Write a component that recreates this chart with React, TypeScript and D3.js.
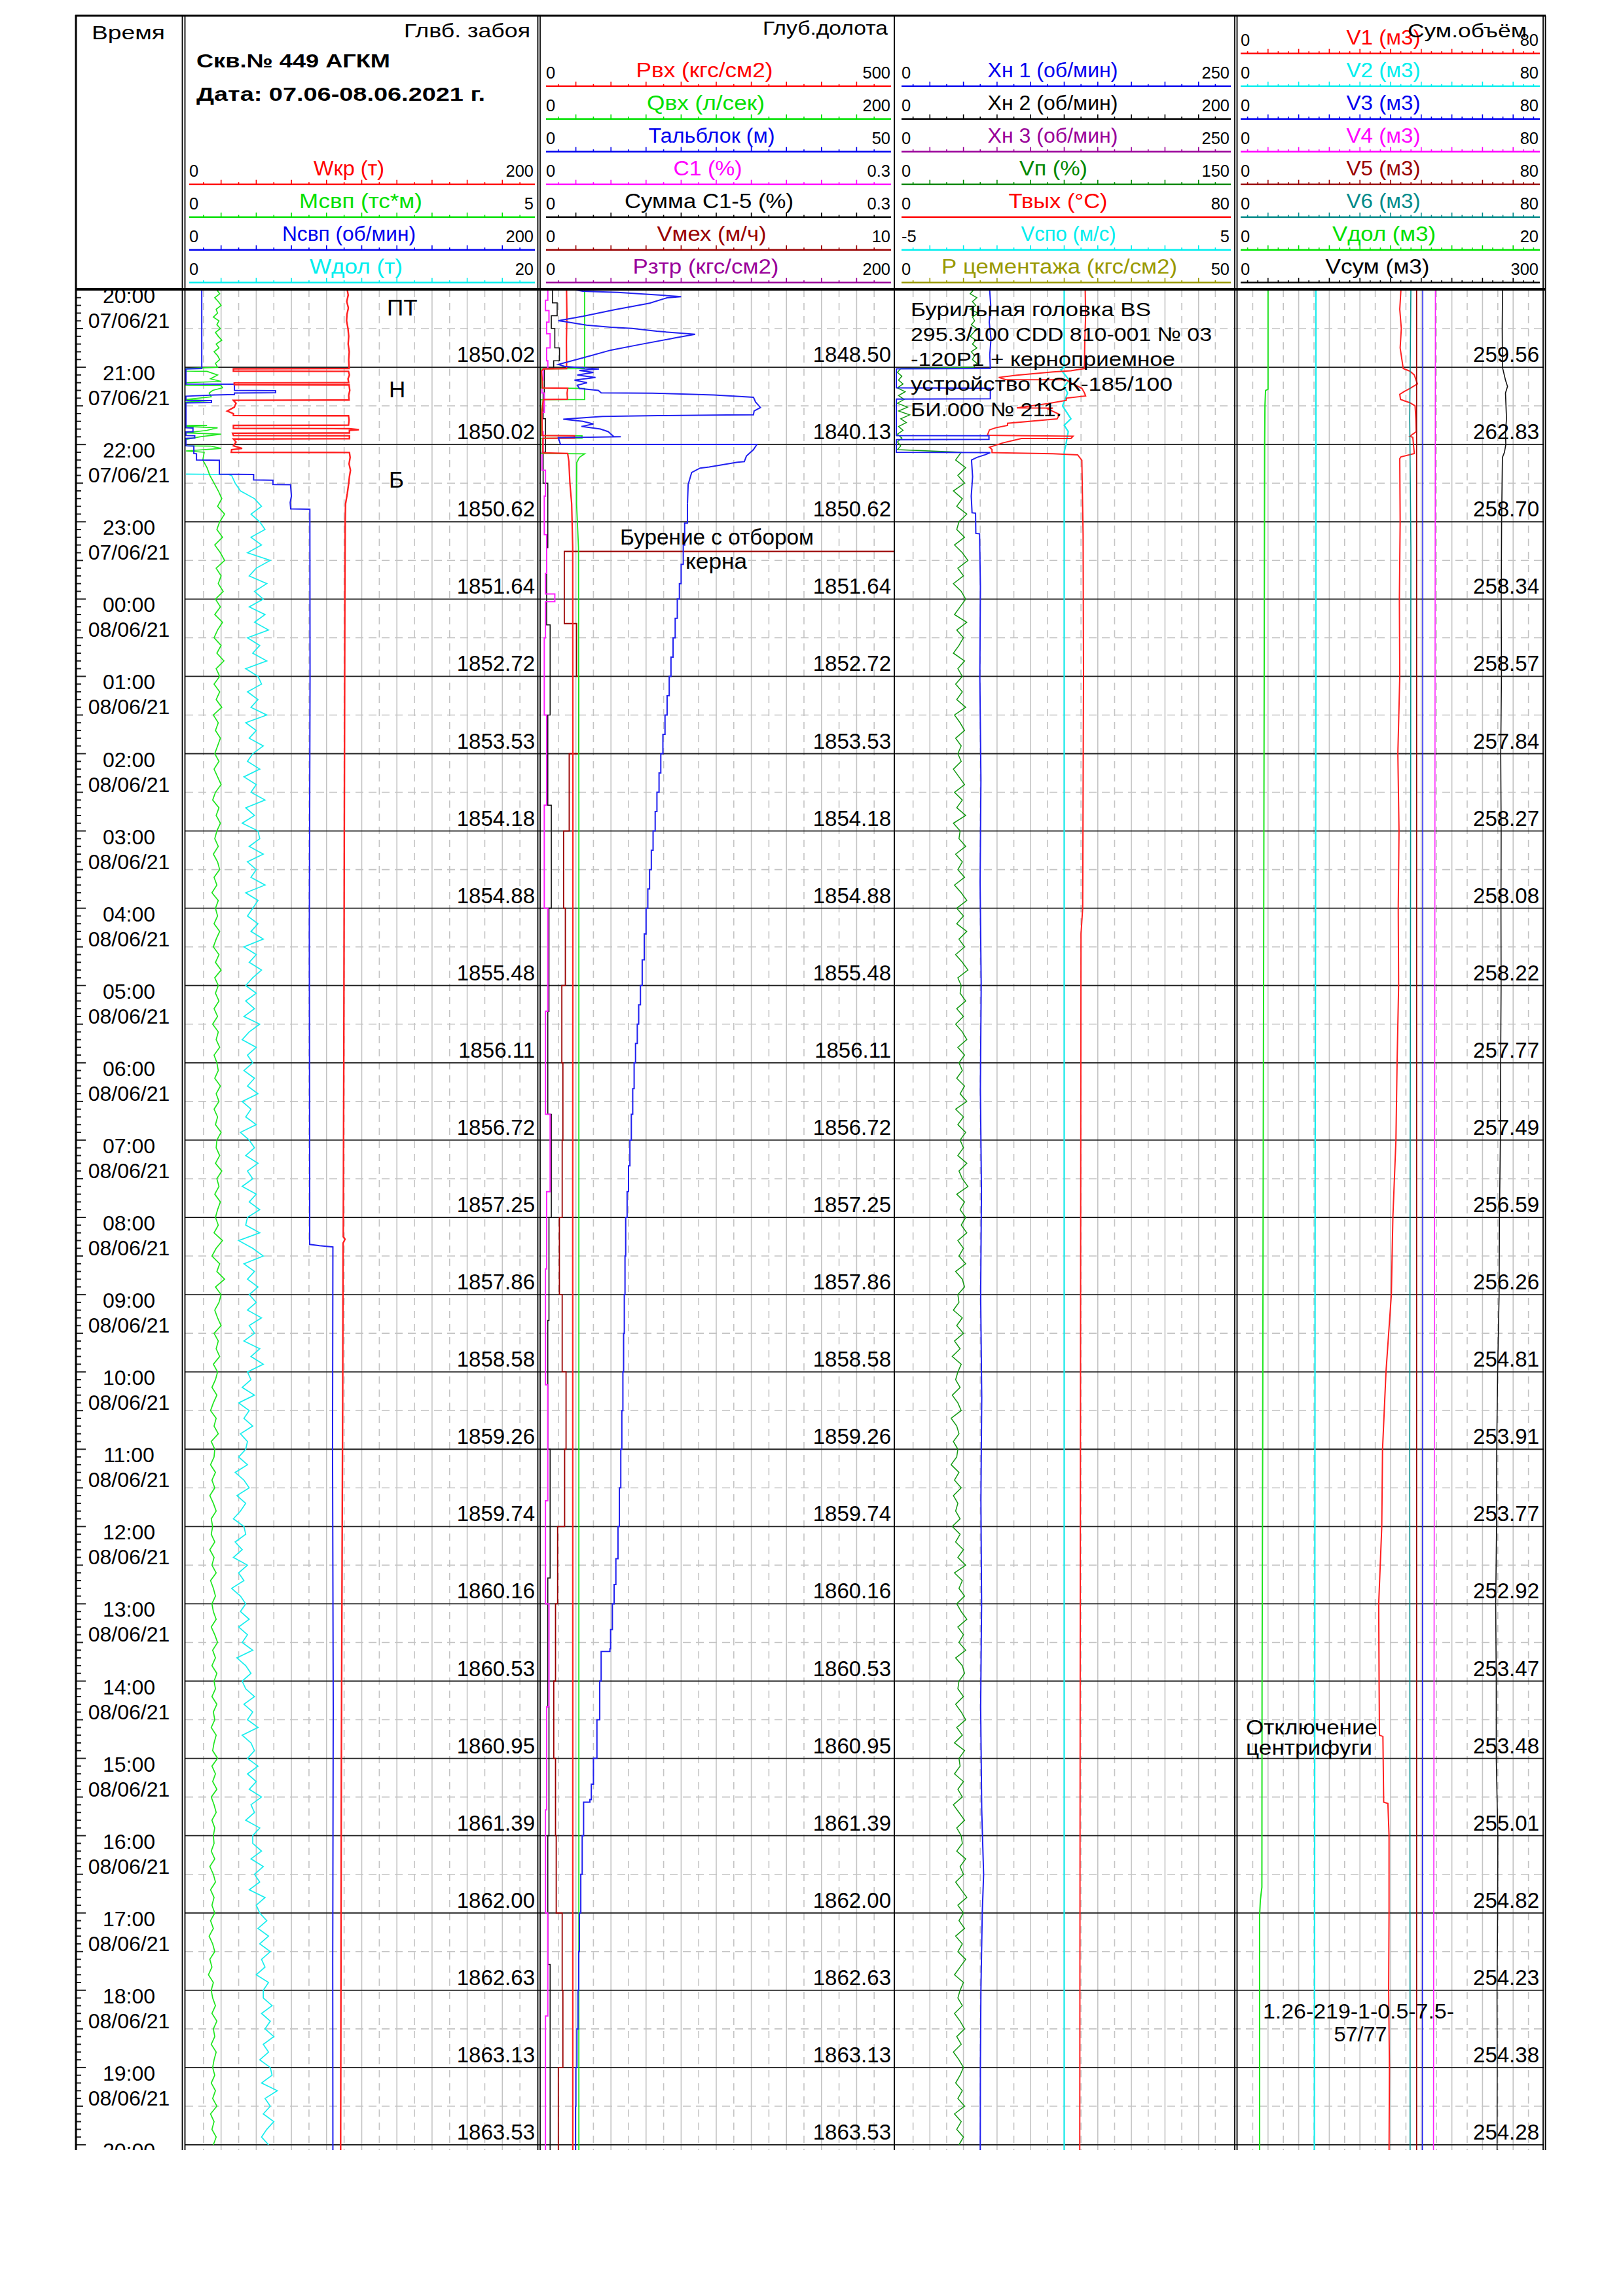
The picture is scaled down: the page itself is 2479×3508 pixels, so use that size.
import React, { useEffect } from 'react';
import * as d3 from 'd3';

type Pt = [number, number];

const FONT = "'Liberation Sans', Arial, Helvetica, sans-serif";

/* ---------------- time axis labels ---------------- */
const hourLabels = ['20:00','21:00','22:00','23:00','00:00','01:00','02:00','03:00','04:00','05:00','06:00','07:00','08:00','09:00','10:00','11:00','12:00','13:00','14:00','15:00','16:00','17:00','18:00','19:00','20:00'];
const dateLabels = ['07/06/21','07/06/21','07/06/21','07/06/21','08/06/21','08/06/21','08/06/21','08/06/21','08/06/21','08/06/21','08/06/21','08/06/21','08/06/21','08/06/21','08/06/21','08/06/21','08/06/21','08/06/21','08/06/21','08/06/21','08/06/21','08/06/21','08/06/21','08/06/21','08/06/21'];

/* hourly values printed above each hour line (21:00 .. 20:00) */
const zaboyDepth = ['1850.02','1850.02','1850.62','1851.64','1852.72','1853.53','1854.18','1854.88','1855.48','1856.11','1856.72','1857.25','1857.86','1858.58','1859.26','1859.74','1860.16','1860.53','1860.95','1861.39','1862.00','1862.63','1863.13','1863.53'];
const bitDepth = ['1848.50','1840.13','1850.62','1851.64','1852.72','1853.53','1854.18','1854.88','1855.48','1856.11','1856.72','1857.25','1857.86','1858.58','1859.26','1859.74','1860.16','1860.53','1860.95','1861.39','1862.00','1862.63','1863.13','1863.53'];
const vsumLabels = ['259.56','262.83','258.70','258.34','258.57','257.84','258.27','258.08','258.22','257.77','257.49','256.59','256.26','254.81','253.91','253.77','252.92','253.47','253.48','255.01','254.82','254.23','254.38','254.28'];

/* ---------------- header scales ---------------- */
const t1Names = ['Wкр (т)', 'Мсвп (тс*м)', 'Nсвп (об/мин)', 'Wдол (т)'];
const t1Min = ['0', '0', '0', '0'];
const t1Max = ['200', '5', '200', '20'];
const t1Colors = ['#ff0000', '#00e000', '#0000ee', '#00eeee'];

const t2Names = ['Рвх (кгс/см2)', 'Qвх (л/сек)', 'Тальблок (м)', 'C1 (%)', 'Сумма C1-5 (%)', 'Vмех (м/ч)', 'Рзтр (кгс/см2)'];
const t2Min = ['0', '0', '0', '0', '0', '0', '0'];
const t2Max = ['500', '200', '50', '0.3', '0.3', '10', '200'];
const t2Colors = ['#ff0000', '#00e000', '#0000ee', '#ff00ff', '#000000', '#990000', '#990099'];

const t3Names = ['Хн 1 (об/мин)', 'Хн 2 (об/мин)', 'Хн 3 (об/мин)', 'Vп  (%)', 'Твых (°C)', 'Vспо (м/с)', 'Р цементажа (кгс/см2)'];
const t3Min = ['0', '0', '0', '0', '0', '-5', '0'];
const t3Max = ['250', '200', '250', '150', '80', '5', '50'];
const t3Colors = ['#0000ee', '#000000', '#990099', '#008800', '#ff0000', '#00eeee', '#999900'];

const t4Names = ['V1 (м3)', 'V2 (м3)', 'V3 (м3)', 'V4 (м3)', 'V5 (м3)', 'V6 (м3)', 'Vдол (м3)', 'Vсум (м3)'];
const t4Min = ['0', '0', '0', '0', '0', '0', '0', '0'];
const t4Max = ['80', '80', '80', '80', '80', '80', '20', '300'];
const t4Colors = ['#ff0000', '#00eeee', '#0000ee', '#ff00ff', '#990000', '#008b8b', '#00e000', '#000000'];

/* ---------------- series (minutes from 20:00 07/06, value) ---------------- */
// Track 1
const wkr: Pt[] = [[0,91.8],[4,92.3],[9,91.5],[14,92.4],[19,91.6],[24,91.4],[30,92.2],[36,92.6],[42,92.3],[48,92.9],[54,92.6],[60,92.8],
  [61,92.8],[61.2,27],[63,27],[63.2,92.5],[66,93],[69,92.2],[72,92.6],[72.2,27.5],[73.6,27.5],[73.8,92.8],[78,93.2],[82,92.6],[85.5,92.8],[85.7,27],[88,28.5],[91,27.5],[94,23.5],[96,27],[97.5,27],[97.7,92.5],[101,92.8],[105,92.5],[105.2,27],[107.5,27],[107.7,93],[108.5,98.4],[109,93],[111,93],[111.2,26.5],[113,27],[113.2,93],[115.5,93],[115.7,27],[118,28.5],[121,27],[123,32],[124,26],[126,25.8],[126.2,93],
  [130,93.4],[135,92.8],[140,93.6],[145,93],[150,92.6],[158,91.8],[166,90.8],[180,90.6],[240,90.4],[360,90.2],[480,90],[600,89.8],[735,89.5],[737,90.5],[740,89.4],[850,89.2],[1000,88.8],[1150,88.4],[1300,88.2],[1446,88]];

const nsvp: Pt[] = [[0,9],[61,9],[61.3,0],[73,0],[73.2,27.6],[78,27.6],[78.2,51],[79.8,51],[80,27.6],[81.2,27.6],[81.5,16],[82.5,0],[85.7,0],[85.9,14.5],[87.4,14.5],[87.6,0],[107,0],[107.2,4],[110,4],[110.2,0],[113,0],[113.2,5],[115,5],[115.2,0],[121,0],[121.2,4.5],[127,4.5],[127.2,6],[132,6],[132.2,19],[143,19],[143.3,38.5],[147.5,38.5],[147.7,49.5],[151,49.5],[151.2,59.5],[160,60],[165,59.3],[170,59.6],[170.2,70.5],[300,70.6],[500,70.2],[700,70.4],[741,70.4],[742,76],[743,83.6],[900,83.4],[1100,83.8],[1300,83.5],[1446,83.6]];

const msvpEarly: Pt[] = [[0,0.44],[3,0.48],[6,0.41],[9,0.46],[12,0.50],[15,0.43],[18,0.45],[21,0.39],[24,0.47],[27,0.44],[30,0.49],[33,0.42],[36,0.46],[39,0.51],[42,0.43],[45,0.47],[48,0.40],[51,0.45],[54,0.48],[57,0.42],[60,0.45],[61,0],[63,0],[63.2,0.3],[66,0.45],[69,0.35],[71,0.5],[72,0],[74,0],[74.2,0.5],[76,0.52],[78,0.38],[80,0.33],[83,0.36],[85,0],[86,0.35],[87,0],[105,0],[105.2,0.3],[106,0],[107,0.45],[109,0.3],[111,0],[112,0.5],[114,0.2],[116,0],[121,0],[121.2,0.35],[123,0.5],[125,0]];
// from 22:06, one value every 6 minutes, one row per hour
const msvpRows: number[][] = [
  [0.26,0.24,0.30,0.34,0.40,0.46,0.51,0.45,0.55,0.48],
  [0.44,0.52,0.41,0.49,0.55,0.43,0.50,0.46,0.53,0.42],
  [0.49,0.41,0.52,0.45,0.40,0.50,0.44,0.54,0.43,0.48],
  [0.40,0.48,0.43,0.51,0.39,0.46,0.42,0.49,0.45,0.41],
  [0.47,0.40,0.45,0.50,0.42,0.38,0.47,0.43,0.49,0.44],
  [0.41,0.46,0.39,0.45,0.48,0.40,0.44,0.37,0.46,0.42],
  [0.45,0.40,0.48,0.43,0.39,0.47,0.42,0.50,0.41,0.46],
  [0.42,0.47,0.40,0.45,0.38,0.46,0.43,0.48,0.40,0.44],
  [0.46,0.41,0.49,0.43,0.47,0.40,0.45,0.42,0.50,0.44],
  [0.43,0.48,0.42,0.51,0.44,0.47,0.41,0.49,0.45,0.42],
  [0.46,0.40,0.52,0.43,0.37,0.48,0.44,0.55,0.42,0.50],
  [0.47,0.41,0.45,0.50,0.40,0.46,0.43,0.48,0.39,0.45],
  [0.42,0.37,0.44,0.39,0.35,0.43,0.40,0.46,0.36,0.41],
  [0.40,0.35,0.42,0.37,0.41,0.34,0.39,0.43,0.36,0.38],
  [0.36,0.41,0.34,0.40,0.37,0.43,0.35,0.39,0.42,0.37],
  [0.39,0.43,0.36,0.41,0.45,0.38,0.42,0.37,0.44,0.40],
  [0.42,0.37,0.44,0.39,0.41,0.36,0.43,0.40,0.38,0.45],
  [0.37,0.42,0.38,0.44,0.36,0.40,0.43,0.37,0.41,0.39],
  [0.40,0.36,0.41,0.34,0.39,0.42,0.35,0.40,0.37,0.41],
  [0.35,0.39,0.33,0.38,0.41,0.34,0.37,0.32,0.39,0.36],
  [0.38,0.42,0.37,0.44,0.39,0.41,0.36,0.43,0.40,0.38],
  [0.41,0.36,0.42,0.38,0.44,0.35,0.40,0.37,0.43,0.39],
];

const wdolEarly: Pt[] = [[143,0],[143.3,2.4]];
const wdolRows: (number | null)[][] = [
  [null,null,null,2.6,2.8,3.1,3.9,4.3,3.7,4.2],
  [4.5,3.7,4.3,3.5,4.8,4.0,3.6,4.6,3.9,4.4],
  [3.6,4.5,3.9,4.7,3.5,4.2,3.8,4.6,3.4,4.1],
  [4.3,3.5,4.1,3.7,4.6,3.4,4.0,3.6,4.4,3.8],
  [3.5,4.2,3.3,4.0,3.7,4.5,3.4,3.9,3.2,4.1],
  [4.2,3.6,4.4,3.5,4.0,3.7,4.5,3.4,4.1,3.8],
  [3.5,4.1,3.7,4.4,3.3,4.0,3.6,4.3,3.8,3.4],
  [4.0,3.4,3.9,3.3,4.2,3.6,3.2,4.0,3.5,3.8],
  [3.3,3.9,3.5,4.1,3.2,3.7,3.4,4.0,3.1,3.6],
  [3.9,3.4,4.1,3.5,3.8,3.2,4.0,3.6,4.2,3.5],
  [3.4,4.2,3.0,3.8,4.4,3.3,3.9,3.5,4.1,3.6],
  [4.0,3.5,4.3,3.6,3.9,3.3,4.2,3.7,4.4,3.5],
  [3.7,3.2,3.9,3.0,3.6,3.3,3.8,3.1,3.5,3.4],
  [3.0,3.5,2.8,3.3,3.6,2.9,3.4,3.1,2.7,3.3],
  [3.4,2.8,3.2,2.7,3.5,3.0,3.3,2.6,3.1,3.4],
  [3.1,3.6,3.0,3.5,3.2,3.8,2.9,3.4,3.7,3.2],
  [3.4,3.9,3.3,3.8,3.5,4.1,3.2,3.7,3.9,3.5],
  [4.1,3.5,4.0,3.6,4.3,3.7,3.9,3.4,4.2,3.8],
  [3.8,4.3,3.7,4.4,3.9,4.2,3.6,4.5,4.0,4.2],
  [4.6,4.1,4.7,4.2,4.8,4.3,4.5,4.0,4.7,4.4],
  [4.4,4.9,4.3,4.8,4.5,5.0,4.4,4.7,4.2,4.8],
  [4.9,4.3,5.2,4.5,4.8,4.4,5.0,4.6,4.3,4.7],
];

// Track 2
const rvx: Pt[] = [[0,36.7],[20,37.2],[40,36.5],[61,36.8],[61.3,3.6],[63,1],[70,2],[76,2.5],[76.3,38.4],[80,37.5],[84.8,38],[85,3.6],[95,1.5],[113,2],[113.2,48],[115,48],[115.2,3],[126.5,3],[127,38.3],[133,40],[150,41.5],[166,44],[200,45.5],[400,45.8],[700,45.5],[1000,45.6],[1446,45.6]];
const qvx: Pt[] = [[0,25],[61,25],[61.3,0],[76,0],[76.2,10],[76.5,25],[85,25],[85.2,0],[113,0],[113.2,23.5],[115,23.5],[115.2,0],[127,0],[127.2,25],[130,22],[134,20.5],[166,20.4],[200,21.5],[400,21.7],[1446,21.7]];
const talEarly: Pt[] = [[0,5],[1,6],[1.9,11],[4.4,18],[5.2,20],[6.1,18],[10.3,15.5],[15.4,10.5],[20.5,6],[23.9,2.5],[24.7,3.5],[27.3,6.5],[29,10],[29.8,13],[32,16.5],[33.2,19],[34.4,22],[37.4,19],[42.5,14],[46.7,10],[52.7,6],[57.8,2.5],[59.5,3.5],[61.3,8.3],[62.5,5.5],[64,7.5],[66,5.2],[68,7.8],[70,4.8],[72,6.6],[74,5.2],[76.5,5.5],[78,8.2],[79.9,8.6],[80.1,15.9],[81.6,24.7],[83.3,30.3],[87,30.6],[91.3,31.3],[94,30.4],[96.9,30.3],[97.1,26.6],[97.6,16.7],[98.2,8.8],[100.3,3.2],[102,6],[104,7.5],[106,5.8],[108,8.5],[110,9.6],[113.8,10.4],[114,11.4],[114.7,2.5],[119.8,2.8],[119.9,30.8],[124,30.3],[129,29.3],[133.3,29],[133.8,28],[137.5,24],[138.3,22.7],[141.7,21.5],[151,21],[166,20.9]];
const talDay: Pt[] = [[166,20.9],[181,20.5],[198,20.3],[213,20.0],[228,19.75],[240,19.45],[255,19.15],[270,18.85],[285,18.55],[300,18.3],[315,18.0],[330,17.7],[345,17.4],[360,17.1],[375,16.85],[390,16.55],[405,16.3],[420,16.0],[435,15.75],[450,15.5],[465,15.25],[480,15.0],[500,14.75],[520,14.45],[540,14.2],[555,13.95],[570,13.75],[585,13.5],[600,13.3],[620,13.1],[640,12.9],[660,12.7],[680,12.5],[700,12.3],[720,12.1],[750,12.0],[780,11.9],[810,11.8],[840,11.7],[870,11.55],[900,11.4],[930,11.2],[960,11.0],[985,10.7],[1005,10.45],[1020,10.2],[1040,9.95],[1055,9.85],[1057,8.6],[1080,8.4],[1110,8.0],[1140,7.5],[1160,7.2],[1172,7.0],[1174,6.1],[1200,5.9],[1230,5.7],[1260,5.5],[1290,5.4],[1320,5.3],[1350,5.15],[1380,5.0],[1410,4.95],[1446,4.9]];
const c1: Pt[] = [[0,0.006],[8,0.004],[16,0.007],[25,0.005],[34,0.008],[45,0.005],[55,0.006],[61,0.002],[70,0.001],[80,0.003],[95,0.001],[110,0.002],[126,0.001],[140,0.004],[160,0.003],[190,0.005],[220,0.004],[236,0.012],[242,0.004],[270,0.003],[330,0.005],[400,0.003],[480,0.006],[560,0.004],[640,0.008],[700,0.005],[760,0.004],[850,0.006],[940,0.004],[1020,0.007],[1100,0.005],[1180,0.004],[1260,0.006],[1340,0.004],[1446,0.005]];
const sumC: Pt[] = [[0,0.010],[10,0.014],[20,0.009],[30,0.012],[45,0.016],[55,0.011],[61,0.003],[80,0.002],[100,0.004],[126,0.002],[150,0.006],[200,0.005],[260,0.008],[330,0.006],[400,0.009],[480,0.007],[560,0.006],[640,0.009],[720,0.007],[800,0.006],[900,0.008],[1000,0.006],[1100,0.007],[1200,0.006],[1300,0.008],[1446,0.007]];
const vmex: Pt[] = [[200,12],[203,0.67],[259,1.02],[300,1.08],[360,0.81],[420,0.65],[480,0.70],[540,0.60],[600,0.63],[660,0.61],[720,0.53],[780,0.61],[840,0.72],[900,0.68],[960,0.48],[1020,0.42],[1080,0.37],[1140,0.42],[1200,0.44],[1260,0.61],[1320,0.63],[1380,0.50],[1446,0.40]];

// Track 3
const xn1: Pt[] = [[0,69.5],[12,70.3],[25,69.2],[38,70.5],[50,69.6],[61,70],[61.2,0],[76,0],[76.3,70],[84.5,70],[84.7,0],[113,0],[113.2,69],[116,69],[116.2,0],[126,0],[126.3,70],[128,66],[130,60],[132,56],[145,56.8],[160,55.8],[173,56.4],[173.3,59],[189,59.2],[189.3,62],[230,62.6],[300,62.2],[380,63],[460,62.4],[540,63.2],[620,62.6],[700,63.4],[780,62.8],[860,63.6],[940,63],[1020,63.5],[1100,62.8],[1180,63.6],[1230,65],[1260,64],[1320,63],[1380,62.6],[1446,62.5]];
const tvyx: Pt[] = [[0,45],[20,45.1],[40,44.9],[61,44.8],[62.8,41.6],[63.7,37.3],[66.2,28.7],[67.9,24.4],[69.6,26],[69.7,40.5],[72.2,41.6],[76.4,44.2],[79.8,44.8],[82.3,45.1],[84,40.5],[85.7,40.5],[88.2,36.2],[91.6,28.7],[91.7,37.3],[92.5,36.2],[96.7,38.9],[100.1,38.3],[103.5,26.5],[105.2,26.5],[106.9,23.8],[108.6,22.2],[112.8,21.7],[113.6,42.1],[115.3,41.6],[115.4,29.8],[118.7,25.4],[122.1,22.2],[123.8,22.8],[126.3,22.8],[127.2,37.3],[128,43.2],[132.3,44.2],[190,44.5],[300,44.6],[480,44.4],[500,44.0],[800,43.9],[1100,43.8],[1446,43.7]];
const vspo: Pt[] = [[0,0],[60,0],[62,-0.1],[70,0.15],[75,0],[80,0.1],[90,-0.05],[100,0.2],[105,0],[110,0.12],[120,0.05],[126,0],[1446,0]];
const vpEarly: Pt[] = [[0,34.5],[3,33],[6,36],[9,34],[12,35.5],[15,33],[18,36.5],[21,34],[24,35],[27,33.5],[30,36],[33,34.5],[36,33],[39,35.5],[42,34],[45,36],[48,33.5],[51,35],[54,34],[57,36],[60,34.5],[61,2],[64,0.5],[67,2.5],[70,1],[73,3],[76,0.5],[79,4],[82,1],[85,3.5],[88,0.5],[91,5],[94,1],[97,6],[100,2],[103,4.5],[106,1],[109,3],[112,0.5],[115,2.5],[118,0.5],[121,2],[124,0.5]];
const vpRows: number[][] = [
  [29.0,26.5,31.0,27.5,30.5,25.5,29.5,27.0,31.5,28.0],
  [27.0,30.5,26.0,29.5,32.0,27.5,30.0,25.5,29.0,31.0],
  [28.5,26.0,31.5,27.0,30.0,28.0,25.5,30.5,27.5,29.5],
  [26.5,29.5,27.0,31.0,26.0,28.5,30.5,26.5,29.0,27.5],
  [29.0,25.5,28.0,30.5,26.0,29.5,27.0,31.0,25.5,28.5],
  [28.0,31.0,26.5,29.5,27.5,30.5,26.0,29.0,31.5,27.0],
  [30.0,27.0,31.5,28.0,30.5,26.5,29.5,32.0,27.5,29.0],
  [28.5,31.0,27.0,30.0,26.5,29.5,31.5,27.5,30.5,28.0],
  [29.5,27.0,30.5,28.5,31.5,26.5,30.0,27.5,31.0,28.5],
  [30.0,27.5,31.5,28.0,29.5,32.0,27.0,30.5,28.5,31.0],
  [29.0,31.5,27.5,30.0,28.0,31.0,26.5,29.5,30.5,27.5],
  [28.0,25.5,29.5,27.0,30.0,26.0,28.5,25.0,29.0,27.5],
  [26.5,28.5,25.0,27.5,29.0,24.5,27.0,28.0,25.5,27.5],
  [27.0,24.5,28.0,26.0,29.0,25.5,27.5,26.5,28.5,25.0],
  [28.5,26.5,30.0,27.5,31.0,26.0,29.5,28.0,30.5,27.0],
  [29.0,31.5,27.5,30.0,28.0,31.0,26.5,29.5,30.5,28.0],
  [27.5,30.0,26.5,29.0,31.0,27.0,29.5,26.0,30.5,28.0],
  [28.5,26.0,30.0,27.5,29.5,25.5,28.0,30.5,27.0,29.0],
  [29.5,27.0,31.0,28.5,30.0,26.5,29.0,31.5,27.5,30.0],
  [28.0,30.5,26.5,29.5,27.5,31.0,28.5,26.0,30.0,28.5],
  [27.5,29.5,26.0,28.5,30.5,27.0,29.0,25.5,28.0,30.0],
  [28.5,26.5,29.5,27.5,30.5,26.0,29.0,27.0,30.0,28.0],
];

// Track 4
const v1: Pt[] = [[0,42.7],[15,42.4],[30,42.8],[45,42.5],[61,43.3],[63,45],[66,46.2],[73,47],[76.5,45],[79,43.5],[81,42.4],[85,42.6],[86,43.5],[87.5,45],[90,46.4],[100,46.6],[110,46.7],[113.6,45],[114.4,45.8],[127,46.2],[129.6,42.7],[131,42.4],[180,42.5],[240,42.3],[300,42.4],[360,41.9],[420,42.2],[480,42.0],[540,42.1],[600,41.7],[660,41.4],[720,40.6],[780,40.2],[840,38.8],[900,37.9],[960,37.7],[1020,36.9],[1080,37.0],[1122,37.1],[1123,38.0],[1174,38.2],[1175,39.3],[1200,39.6],[1260,39.6],[1320,39.5],[1380,39.7],[1446,39.6]];
const v2: Pt[] = [[0,20.5],[300,20.5],[700,20.3],[1100,20.2],[1446,20.1]];
const v3: Pt[] = [[0,48.4],[700,48.4],[1446,48.3]];
const v4: Pt[] = [[0,51.7],[700,51.5],[1446,51.2]];
const v5: Pt[] = [[0,46.8],[1446,46.8]];
const v6: Pt[] = [[0,45.3],[100,45.0],[200,45.3],[500,45.2],[900,45.0],[1446,45.1]];
const vdol: Pt[] = [[0,2.0],[77,2.0],[78,1.84],[90,1.8],[120,1.78],[300,1.75],[600,1.7],[900,1.65],[1086,1.61],[1240,1.6],[1250,1.5],[1262,1.45],[1446,1.45]];
const vsum: Pt[] = [[0,259.6],[30,259.3],[60,259.56],[65,261],[70,262.5],[75,264.5],[80,262.5],[90,263],[100,263.5],[110,262.5],[120,262.83],[126,261.5],[130,259.5],[180,258.70],[240,258.34],[300,258.57],[360,257.84],[420,258.27],[480,258.08],[540,258.22],[600,257.77],[660,257.49],[720,256.59],[780,256.26],[840,254.81],[900,253.91],[960,253.77],[1020,252.92],[1080,253.47],[1140,253.48],[1200,255.01],[1260,254.82],[1320,254.23],[1380,254.38],[1440,254.28],[1446,254.3]];

/* ---------------- layout ---------------- */
const TRACKS = [
  { x0: 283, x1: 821, s0: 284, s1: 821, ax0: 289, ax1: 817, hiX: 815, valX: 817 },
  { x0: 825, x1: 1365, s0: 826, s1: 1362, ax0: 834, ax1: 1361, hiX: 1360, valX: 1361 },
  { x0: 1367, x1: 1886, s0: 1369, s1: 1882, ax0: 1377, ax1: 1880, hiX: 1878, valX: 0 },
  { x0: 1890, x1: 2356, s0: 1890, s1: 2358, ax0: 1895, ax1: 2352, hiX: 2350, valX: 2351 },
];
const NAME_POS = [
  [[533, 108], [551, 188], [533, 204], [544, 142]],
  [[1076, 209], [1078, 180], [1087, 193], [1081, 105], [1083, 258], [1087, 167], [1078, 223]],
  [[1608, 199], [1608, 199], [1608, 199], [1609, 104], [1616, 151], [1632, 145], [1618, 360]],
  [[2113, 113], [2113, 113], [2113, 113], [2113, 113], [2113, 113], [2113, 113], [2114, 158], [2104, 159]],
];

const DATA_TOP = 443;
const DATA_END = 3285;

function fromRows(start: number, step: number, rows: (number | null)[][]): Pt[] {
  const out: Pt[] = [];
  let i = 0;
  rows.forEach(r => r.forEach(v => { if (v !== null) out.push([start + i * step, v]); i++; }));
  return out;
}

export default function App() {
  useEffect(() => { document.body.style.margin = '0'; }, []);

  const y = d3.scaleLinear().domain([0, 1440]).range([DATA_TOP, 3277]);

  const pathOf = (data: Pt[], ti: number, lo: number, hi: number, step: boolean) => {
    const t = TRACKS[ti];
    const x = d3.scaleLinear().domain([lo, hi]).range([t.s0, t.s1]);
    const line = d3.line<Pt>().x(d => x(d[1])).y(d => y(d[0])).curve(step ? d3.curveStepBefore : d3.curveLinear);
    return line(data) || '';
  };

  const msvp = [...msvpEarly, ...fromRows(126, 6, msvpRows)];
  const wdol = [...wdolEarly, ...fromRows(126, 6, wdolRows)];
  const vp = [...vpEarly, ...fromRows(126, 6, vpRows)];

  const series = [
    // track 1
    { ti: 0, d: wdol, lo: 0, hi: 20, c: '#18eeee', w: 1.7, s: false },
    { ti: 0, d: msvp, lo: 0, hi: 5, c: '#1ee61e', w: 1.7, s: false },
    { ti: 0, d: nsvp, lo: 0, hi: 200, c: '#2020f0', w: 2, s: false },
    { ti: 0, d: wkr, lo: 0, hi: 200, c: '#ff2020', w: 2.4, s: false },
    // track 2
    { ti: 1, d: sumC, lo: 0, hi: 0.3, c: '#111111', w: 1.6, s: true },
    { ti: 1, d: c1, lo: 0, hi: 0.3, c: '#ff20ff', w: 2, s: true },
    { ti: 1, d: vmex, lo: 0, hi: 10, c: '#9a0000', w: 1.8, s: true },
    { ti: 1, d: qvx, lo: 0, hi: 200, c: '#1ee61e', w: 1.8, s: false },
    { ti: 1, d: rvx, lo: 0, hi: 500, c: '#ff2020', w: 2.2, s: false },
    { ti: 1, d: talEarly, lo: 0, hi: 50, c: '#2020f0', w: 2, s: false },
    { ti: 1, d: talDay, lo: 0, hi: 50, c: '#2020f0', w: 2, s: true },
    // track 3
    { ti: 2, d: vspo, lo: -5, hi: 5, c: '#18eeee', w: 2.2, s: false },
    { ti: 2, d: tvyx, lo: 0, hi: 80, c: '#ff2020', w: 2, s: false },
    { ti: 2, d: vp, lo: 0, hi: 150, c: '#119911', w: 1.5, s: false },
    { ti: 2, d: xn1, lo: 0, hi: 250, c: '#2020f0', w: 2, s: false },
    // track 4
    { ti: 3, d: vdol, lo: 0, hi: 20, c: '#1ee61e', w: 2, s: false },
    { ti: 3, d: v2, lo: 0, hi: 80, c: '#18eeee', w: 2.2, s: false },
    { ti: 3, d: v1, lo: 0, hi: 80, c: '#ff2020', w: 2, s: false },
    { ti: 3, d: v6, lo: 0, hi: 80, c: '#008b8b', w: 1.6, s: false },
    { ti: 3, d: v5, lo: 0, hi: 80, c: '#9a0000', w: 1.6, s: false },
    { ti: 3, d: v3, lo: 0, hi: 80, c: '#2020f0', w: 1.6, s: false },
    { ti: 3, d: v4, lo: 0, hi: 80, c: '#ff20ff', w: 1.6, s: false },
    { ti: 3, d: vsum, lo: 0, hi: 300, c: '#111111', w: 1.6, s: false },
  ];

  const headerAxes = [
    { ti: 0, names: t1Names, mins: t1Min, maxs: t1Max, colors: t1Colors, firstLine: 281.7 },
    { ti: 1, names: t2Names, mins: t2Min, maxs: t2Max, colors: t2Colors, firstLine: 131.7 },
    { ti: 2, names: t3Names, mins: t3Min, maxs: t3Max, colors: t3Colors, firstLine: 131.7 },
    { ti: 3, names: t4Names, mins: t4Min, maxs: t4Max, colors: t4Colors, firstLine: 81.7 },
  ];

  const hours = d3.range(0, 25);
  const minorTicks = d3.range(0, 1446, 6);

  return (
    <svg width={2479} height={3508} style={{ display: 'block', position: 'absolute', left: 0, top: 0, background: '#fff' }} fontFamily={FONT}>
      <rect x={0} y={0} width={2479} height={3508} fill="#fff" />
      <defs>
        {TRACKS.map((t, i) => (
          <clipPath id={`clipT${i}`} key={i}>
            <rect x={t.x0} y={DATA_TOP} width={t.x1 - t.x0} height={DATA_END - DATA_TOP} />
          </clipPath>
        ))}
        <clipPath id="clipTime">
          <rect x={116} y={441} width={164} height={DATA_END - 441} />
        </clipPath>
      </defs>

      {/* vertical grid */}
      {TRACKS.map((t, i) => (
        <g key={`vg${i}`}>
          {d3.range(1, 20).map(k => {
            const gx = t.s0 + (k * (t.s1 - t.s0)) / 20;
            return (
              <line key={k} x1={gx} x2={gx} y1={DATA_TOP} y2={DATA_END} stroke="#c4c4c4" strokeWidth={1.6}
                strokeDasharray={k % 2 === 1 ? '11 9' : undefined} />
            );
          })}
        </g>
      ))}
      {/* half hour dashed grid */}
      {hours.slice(0, 24).map(h => (
        <line key={`hh${h}`} x1={283} x2={2357} y1={y(h * 60 + 30)} y2={y(h * 60 + 30)} stroke="#c4c4c4" strokeWidth={1.6} strokeDasharray="12 8" />
      ))}
      {/* hour lines */}
      {hours.slice(1).map(h => (
        <line key={`hl${h}`} x1={282} x2={2358} y1={y(h * 60)} y2={y(h * 60)} stroke="#222" strokeWidth={1.8} />
      ))}

      {/* traces */}
      {series.map((s, i) => (
        <path key={`s${i}`} d={pathOf(s.d, s.ti, s.lo, s.hi, s.s)} fill="none" stroke={s.c} strokeWidth={s.w}
          strokeLinejoin="miter" clipPath={`url(#clipT${s.ti})`} />
      ))}

      {/* time column */}
      <g clipPath="url(#clipTime)">
        {minorTicks.map(m => {
          const len = m % 60 === 0 ? 15 : m % 30 === 0 ? 11 : 8;
          return <line key={`tk${m}`} x1={116} x2={116 + len} y1={y(m)} y2={y(m)} stroke="#222" strokeWidth={2} />;
        })}
        {hours.map(h => (
          <g key={`tl${h}`}>
            <text x={197} y={y(h * 60) + 20} fontSize={32} textAnchor="middle" fill="#000">{hourLabels[h]}</text>
            <text x={197} y={y(h * 60) + 58} fontSize={32} textAnchor="middle" fill="#000">{dateLabels[h]}</text>
          </g>
        ))}
      </g>

      {/* hourly values */}
      {hours.slice(1).map(h => (
        <g key={`hv${h}`} fontSize={33} fill="#000" textAnchor="end">
          <text x={TRACKS[0].valX} y={y(h * 60) - 8}>{zaboyDepth[h - 1]}</text>
          <text x={TRACKS[1].valX} y={y(h * 60) - 8}>{bitDepth[h - 1]}</text>
          <text x={TRACKS[3].valX} y={y(h * 60) - 8}>{vsumLabels[h - 1]}</text>
        </g>
      ))}

      {/* annotations */}
      <g fontSize={35} fill="#000">
        <text x={591} y={482}>ПТ</text>
        <text x={594} y={607}>Н</text>
        <text x={594} y={745}>Б</text>
      </g>
      <g fontSize={33} fill="#000" textAnchor="middle">
        <text x={1095} y={832} textLength={296} lengthAdjust="spacingAndGlyphs">Бурение с отбором</text>
        <text x={1094} y={869} textLength={94} lengthAdjust="spacingAndGlyphs">керна</text>
      </g>
      <g fontSize={30} fill="#000">
        <text x={1391} y={483} textLength={367} lengthAdjust="spacingAndGlyphs">Бурильная головка BS</text>
        <text x={1391} y={521} textLength={460} lengthAdjust="spacingAndGlyphs">295.3/100 CDD 810-001 № 03</text>
        <text x={1391} y={559} textLength={404} lengthAdjust="spacingAndGlyphs">-120P1 + керноприемное</text>
        <text x={1391} y={597} textLength={400} lengthAdjust="spacingAndGlyphs">устройство  КСК-185/100</text>
        <text x={1391} y={636} textLength={231} lengthAdjust="spacingAndGlyphs">БИ.000 № 211.</text>
      </g>
      <g fontSize={31} fill="#000">
        <text x={1903} y={2650} textLength={201} lengthAdjust="spacingAndGlyphs">Отключение</text>
        <text x={1903} y={2681} textLength={193} lengthAdjust="spacingAndGlyphs">центрифуги</text>
        <text x={2075} y={3084} textAnchor="middle" textLength={292} lengthAdjust="spacingAndGlyphs">1.26-219-1-0.5-7.5-</text>
        <text x={2078} y={3119} textAnchor="middle" textLength={81} lengthAdjust="spacingAndGlyphs">57/77</text>
      </g>

      {/* header scales */}
      {headerAxes.map(ha => {
        const t = TRACKS[ha.ti];
        const nDiv = ha.ti === 3 ? 30 : 20;
        const major = ha.ti === 3 ? 3 : 2;
        return (
          <g key={`ha${ha.ti}`}>
            {ha.names.map((nm, j) => {
              const ly = ha.firstLine + j * 50;
              const noTicks = ha.ti === 2 && j === 4;
              const [cx, tw] = NAME_POS[ha.ti][j];
              return (
                <g key={j}>
                  <line x1={t.ax0} x2={t.ax1} y1={ly} y2={ly} stroke={ha.colors[j]} strokeWidth={2.6} />
                  {!noTicks && d3.range(1, nDiv).map(k => {
                    const tx = t.s0 + (k * (t.s1 - t.s0)) / nDiv;
                    const tall = k % major === 0;
                    return <line key={k} x1={tx} x2={tx} y1={ly} y2={ly - (tall ? 7 : 3.5)} stroke={ha.colors[j]} strokeWidth={1.6} />;
                  })}
                  <text x={t.ax0} y={ly - 12} fontSize={25.5} fill="#000">{ha.mins[j]}</text>
                  <text x={t.hiX} y={ly - 12} fontSize={25.5} fill="#000" textAnchor="end">{ha.maxs[j]}</text>
                  <text x={cx} y={ly - 14} fontSize={31} fill={ha.colors[j]} textAnchor="middle" textLength={tw} lengthAdjust="spacingAndGlyphs">{nm}</text>
                </g>
              );
            })}
          </g>
        );
      })}

      {/* header titles */}
      <text x={196} y={60} fontSize={30} textAnchor="middle" textLength={112} lengthAdjust="spacingAndGlyphs">Время</text>
      <text x={617} y={57} fontSize={29} textLength={193} lengthAdjust="spacingAndGlyphs">Глвб. забоя</text>
      <text x={300} y={103} fontSize={29} fontWeight="bold" textLength={296} lengthAdjust="spacingAndGlyphs">Скв.№ 449 АГКМ</text>
      <text x={300} y={154} fontSize={29} fontWeight="bold" textLength={441} lengthAdjust="spacingAndGlyphs">Дата: 07.06-08.06.2021 г.</text>
      <text x={1165} y={53} fontSize={29} textLength={191} lengthAdjust="spacingAndGlyphs">Глуб.долота</text>
      <text x={2150} y={57} fontSize={29} textLength={182} lengthAdjust="spacingAndGlyphs">Сум.объём</text>

      {/* frame */}
      <g stroke="#000" fill="none">
        <line x1={115} x2={2361} y1={24} y2={24} strokeWidth={3} />
        <line x1={116} x2={2361} y1={442} y2={442} strokeWidth={4} />
        <line x1={116} x2={116} y1={23} y2={DATA_END} strokeWidth={3} />
        <line x1={278.5} x2={278.5} y1={24} y2={DATA_END} strokeWidth={1.8} />
        <line x1={282.5} x2={282.5} y1={24} y2={DATA_END} strokeWidth={1.8} />
        <line x1={821.5} x2={821.5} y1={24} y2={DATA_END} strokeWidth={1.8} />
        <line x1={825} x2={825} y1={24} y2={DATA_END} strokeWidth={1.8} />
        <line x1={1366} x2={1366} y1={24} y2={DATA_END} strokeWidth={2} />
        <line x1={1886} x2={1886} y1={24} y2={DATA_END} strokeWidth={1.8} />
        <line x1={1889.5} x2={1889.5} y1={24} y2={DATA_END} strokeWidth={1.8} />
        <line x1={2357} x2={2357} y1={24} y2={DATA_END} strokeWidth={1.8} />
        <line x1={2360.5} x2={2360.5} y1={24} y2={DATA_END} strokeWidth={1.8} />
      </g>
    </svg>
  );
}
